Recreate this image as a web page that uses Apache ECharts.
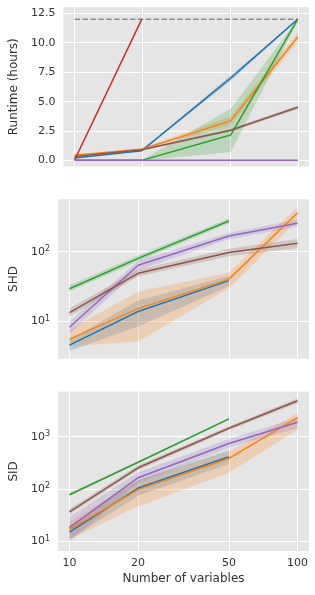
<!DOCTYPE html>
<html><head><meta charset="utf-8">
<script src="https://cdn.jsdelivr.net/npm/echarts@6/dist/echarts.min.js"></script>
<style>html,body{margin:0;padding:0;background:#fff}#c{width:315px;height:595px}</style>
</head><body><div id="c"></div>
<script>
// ---------- data ----------
const nVars = [10, 20, 50, 100];
const xTicks = [10, 20, 50, 100];
const runtimeTicks = [0, 2.5, 5, 7.5, 10, 12.5];
const shdTicks = [10, 100];
const sidTicks = [10, 100, 1000];
const timeoutHours = [12, 12];
const timeoutX = [10, 100];

// Runtime (hours): mean / lower / upper
const rtBlue = [0.23, 0.84, 7.0, 12.0];
const rtBlueLo = [0.2, 0.8, 6.75, 12.0];
const rtBlueHi = [0.27, 0.88, 7.25, 12.0];
const rtOrange = [0.45, 0.97, 3.37, 10.5];
const rtOrangeLo = [0.38, 0.9, 3.0, 10.1];
const rtOrangeHi = [0.52, 1.04, 3.75, 10.9];
const rtGreen = [0.02, 0.02, 2.17, 12.0];
const rtGreenLo = [0.02, 0.0, 0.7, 11.8];
const rtGreenHi = [0.02, 0.05, 4.4, 12.0];
const rtRed = [0.05, 12.0, null, null];
const rtPurple = [0.03, 0.03, 0.03, 0.04];
const rtBrown = [0.35, 0.92, 2.58, 4.52];
const rtBrownLo = [0.3, 0.85, 2.45, 4.35];
const rtBrownHi = [0.4, 0.99, 2.71, 4.7];

// SHD
const shdBlue = [4.6, 13.9, 38.5, null];
const shdBlueLo = [3.8, 8.5, 32, null];
const shdBlueHi = [5.5, 20, 45, null];
const shdOrange = [5.6, 15.3, 40.4, 361];
const shdOrangeLo = [4.4, 5.2, 30, 284];
const shdOrangeHi = [7.6, 26.8, 50, 439];
const shdGreen = [29.5, 80, 275, null];
const shdGreenLo = [27, 73, 255, null];
const shdGreenHi = [33, 88, 297, null];
const shdPurple = [8.3, 64, 167, 255];
const shdPurpleLo = [6.7, 54, 150, 228];
const shdPurpleHi = [10, 74, 186, 285];
const shdBrown = [13.4, 49, 97, 132];
const shdBrownLo = [11.8, 44, 86, 112];
const shdBrownHi = [15.5, 55, 110, 152];

// SID
const sidBlue = [15.2, 105, 415, null];
const sidBlueLo = [11, 75, 300, null];
const sidBlueHi = [20, 150, 560, null];
const sidOrange = [17, 98, 385, 2300];
const sidOrangeLo = [11, 47, 205, 1350];
const sidOrangeHi = [24, 150, 520, 2800];
const sidGreen = [78, 325, 2180, null];
const sidGreenLo = [74, 310, 2080, null];
const sidGreenHi = [83, 340, 2280, null];
const sidPurple = [18.5, 165, 740, 1880];
const sidPurpleLo = [10, 130, 620, 1450];
const sidPurpleHi = [30, 210, 900, 2300];
const sidBrown = [37, 255, 1450, 4850];
const sidBrownLo = [33, 230, 1330, 4350];
const sidBrownHi = [42, 285, 1580, 5400];

// ---------- styling ----------
const C = {blue:'#1f77b4', orange:'#ff7f0e', green:'#2ca02c', red:'#d62728', purple:'#9467bd', brown:'#8c564b'};
const TXT = '#333333';
const FONT = 'DejaVu Sans';

function rgba(hex, a) {
  const n = parseInt(hex.slice(1), 16);
  return `rgba(${(n>>16)&255},${(n>>8)&255},${n&255},${a})`;
}
function pairs(vals) {
  const out = [];
  nVars.forEach((x, i) => { if (vals[i] != null) out.push([x, vals[i]]); });
  return out;
}
function line(g, vals, color) {
  return { type:'line', xAxisIndex:g, yAxisIndex:g, data:pairs(vals), symbol:'none', z:3,
    lineStyle:{color, width:1.5}, itemStyle:{color}, silent:true, animation:false };
}
function band(g, lo, hi, color) {
  return { type:'custom', xAxisIndex:g, yAxisIndex:g, z:1, clip:true, silent:true, animation:false,
    data:[[nVars[0], lo[0]]],
    renderItem:(params, api) => {
      const top = [], bot = [];
      nVars.forEach((x, i) => {
        if (lo[i] == null) return;
        top.push(api.coord([x, hi[i]]));
        bot.unshift(api.coord([x, lo[i]]));
      });
      return { type:'polygon', shape:{points: top.concat(bot)}, style:{fill: rgba(color, 0.22)} };
    } };
}

const gridTops = [7, 199.3, 391.6];
const grids = gridTops.map(t => ({ left:58, right:6, top:t, height:159.5, show:true,
  backgroundColor:'#e5e5e5', borderWidth:0, containLabel:false }));

const xAxes = [0,1,2].map(i => ({
  type:'log', gridIndex:i, min:8.91, max:112.2,
  axisLine:{show:false}, axisTick:{show:false, customValues:xTicks},
  axisLabel:{show:i===2, customValues:xTicks, formatter:v=>String(Math.round(v)),
    color:TXT, fontSize:11, fontFamily:FONT, margin:7},
  splitLine:{show:true, lineStyle:{color:'#ffffff', width:1}},
  minorSplitLine:{show:false},
  name: i===2 ? 'Number of variables' : '', nameLocation:'middle', nameGap:22,
  nameTextStyle:{color:TXT, fontSize:12, fontFamily:FONT}
}));

const logLabel = {
  formatter: v => '{b|10}{s|' + Math.round(Math.log10(v)) + '}',
  rich: { b:{fontSize:11, fontFamily:FONT, color:TXT}, s:{fontSize:8, fontFamily:FONT, color:TXT, verticalAlign:'top', padding:[0,0,6,0]} },
  margin:8
};

const yAxes = [
  { type:'value', gridIndex:0, min:-0.5, max:13.03,
    axisLine:{show:false}, axisTick:{show:false, customValues:runtimeTicks},
    axisLabel:{customValues:runtimeTicks, formatter:v=>v.toFixed(1), color:TXT, fontSize:11, fontFamily:FONT, margin:8},
    splitLine:{show:true, lineStyle:{color:'#ffffff', width:1}},
    name:'Runtime (hours)', nameLocation:'middle', nameGap:40,
    nameTextStyle:{color:TXT, fontSize:12, fontFamily:FONT} },
  { type:'log', gridIndex:1, min:2.93, max:561,
    axisLine:{show:false}, axisTick:{show:false, customValues:shdTicks},
    axisLabel:Object.assign({customValues:shdTicks}, logLabel),
    splitLine:{show:true, lineStyle:{color:'#ffffff', width:1}}, minorSplitLine:{show:false},
    name:'SHD', nameLocation:'middle', nameGap:29,
    nameTextStyle:{color:TXT, fontSize:12, fontFamily:FONT} },
  { type:'log', gridIndex:2, min:6.58, max:7240,
    axisLine:{show:false}, axisTick:{show:false, customValues:sidTicks},
    axisLabel:Object.assign({customValues:sidTicks}, logLabel),
    splitLine:{show:true, lineStyle:{color:'#ffffff', width:1}}, minorSplitLine:{show:false},
    name:'SID', nameLocation:'middle', nameGap:31,
    nameTextStyle:{color:TXT, fontSize:12, fontFamily:FONT} }
];

const series = [
  // runtime
  band(0, rtBlueLo, rtBlueHi, C.blue),
  band(0, rtOrangeLo, rtOrangeHi, C.orange),
  band(0, rtGreenLo, rtGreenHi, C.green),
  band(0, rtBrownLo, rtBrownHi, C.brown),
  { type:'line', xAxisIndex:0, yAxisIndex:0, data: timeoutX.map((x,i)=>[x, timeoutHours[i]]), symbol:'none', z:2,
    silent:true, animation:false, lineStyle:{color:'#8a8a8a', width:1.5, type:[5.5,2.4]} },
  line(0, rtBlue, C.blue), line(0, rtOrange, C.orange), line(0, rtGreen, C.green),
  line(0, rtRed, C.red), line(0, rtPurple, C.purple), line(0, rtBrown, C.brown),
  // SHD
  band(1, shdBlueLo, shdBlueHi, C.blue),
  band(1, shdOrangeLo, shdOrangeHi, C.orange),
  band(1, shdGreenLo, shdGreenHi, C.green),
  band(1, shdPurpleLo, shdPurpleHi, C.purple),
  band(1, shdBrownLo, shdBrownHi, C.brown),
  line(1, shdBlue, C.blue), line(1, shdOrange, C.orange), line(1, shdGreen, C.green),
  line(1, shdPurple, C.purple), line(1, shdBrown, C.brown),
  // SID
  band(2, sidBlueLo, sidBlueHi, C.blue),
  band(2, sidOrangeLo, sidOrangeHi, C.orange),
  band(2, sidGreenLo, sidGreenHi, C.green),
  band(2, sidPurpleLo, sidPurpleHi, C.purple),
  band(2, sidBrownLo, sidBrownHi, C.brown),
  line(2, sidBlue, C.blue), line(2, sidOrange, C.orange), line(2, sidGreen, C.green),
  line(2, sidPurple, C.purple), line(2, sidBrown, C.brown)
];

const chart = echarts.init(document.getElementById('c'), null, {renderer:'canvas'});
chart.setOption({ animation:false, backgroundColor:'#ffffff', grid:grids, xAxis:xAxes, yAxis:yAxes, series });
</script></body></html>
